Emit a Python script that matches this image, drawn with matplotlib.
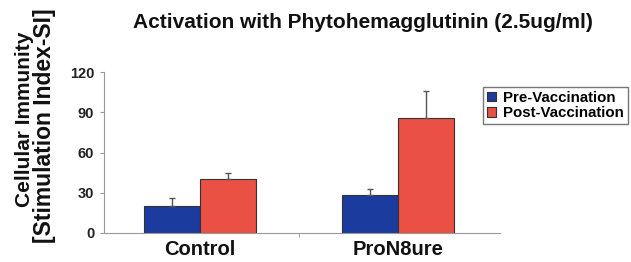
import matplotlib
matplotlib.use("Agg")
import matplotlib.pyplot as plt
import numpy as np

plt.rcParams['font.family'] = ['Liberation Sans', 'DejaVu Sans']

categories = ["Control", "ProN8ure"]
series_names = ["Pre-Vaccination", "Post-Vaccination"]
pre_values = [20, 28]
post_values = [40, 86]
pre_err = [6, 5]
post_err = [5, 20]
yticks = [0, 30, 60, 90, 120]

fig = plt.figure(figsize=(6.31, 2.62), dpi=100)
ax = fig.add_axes([104/631, 1-233/262, 396/631, 161/262])

x = np.arange(len(categories))
w = 0.285
blue = "#1c3b9e"
red = "#ea5044"
ekw = dict(ecolor="#555555", elinewidth=1, capsize=2.5, capthick=1)
ax.bar(x - w/2, pre_values, w, color=blue, edgecolor="#333333", linewidth=0.8,
       yerr=[np.zeros(len(pre_err)), pre_err], error_kw=ekw, label=series_names[0])
ax.bar(x + w/2, post_values, w, color=red, edgecolor="#333333", linewidth=0.8,
       yerr=[np.zeros(len(post_err)), post_err], error_kw=ekw, label=series_names[1])

ax.set_xlim(-0.485, 1.515)
ax.set_ylim(0, 120)
ax.set_yticks(yticks)
ax.set_yticklabels([str(t) for t in yticks], fontsize=10.5, fontweight='bold', color='#222222')
ax.set_xticks(x)
ax.set_xticklabels(categories, fontsize=14.5, fontweight='bold', color='#111111')
ax.tick_params(axis='x', length=0, pad=5)
ax.tick_params(axis='y', length=3, color='#999999', pad=4)
ax.set_xticks([0.5], minor=True)
ax.tick_params(axis='x', which='minor', length=3, color='#999999')
for s in ['top', 'right']:
    ax.spines[s].set_visible(False)
for s in ['left', 'bottom']:
    ax.spines[s].set_color('#999999')
    ax.spines[s].set_linewidth(0.8)

fig.text(363/631, 1-28/262, "Activation with Phytohemagglutinin (2.5ug/ml)", ha='center', va='baseline',
         fontsize=15, fontweight='bold', color='#111111')
fig.text(25/631, 1-119/262, "Cellular Immunity", rotation=90, ha='center', va='center',
         fontsize=15, fontweight='bold', color='#111111')
fig.text(45/631, 1-126/262, "[Stimulation Index-SI]", rotation=90, ha='center', va='center',
         fontsize=16.5, fontweight='bold', color='#111111')

leg = fig.legend(loc='upper left', bbox_to_anchor=(483/631, 1-87/262),
                 prop={'weight': 'bold', 'size': 10.8}, frameon=True, fancybox=False,
                 handlelength=0.6, handleheight=0.6, handletextpad=0.5, borderpad=0.25,
                 labelspacing=0.1, borderaxespad=0)
leg.get_frame().set_edgecolor('#555555')
leg.get_frame().set_linewidth(1)

fig.savefig("out.png", dpi=100)
